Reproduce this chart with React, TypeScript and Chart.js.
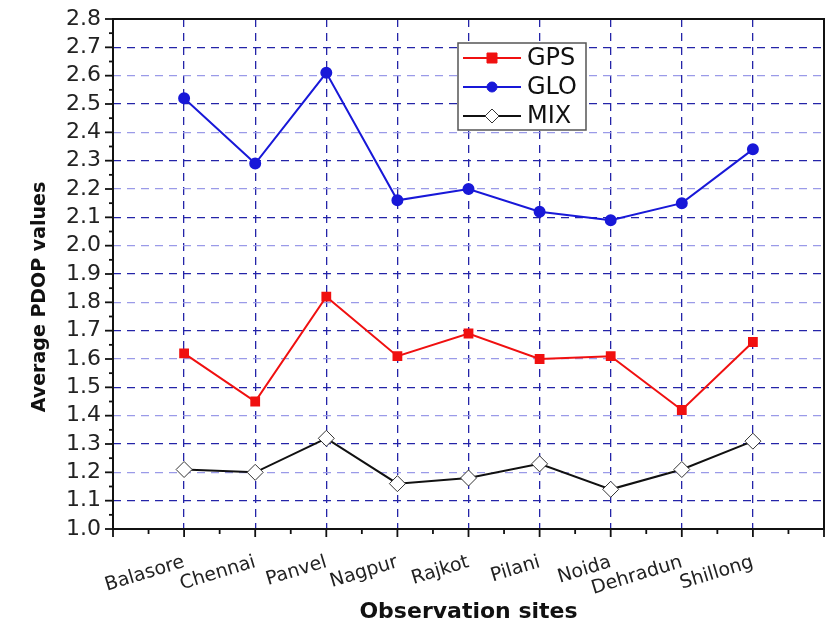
import React, { useEffect, useRef } from "react";
import { Chart, registerables } from "chart.js";

Chart.register(...registerables);

const sites = ["Balasore", "Chennai", "Panvel", "Nagpur", "Rajkot", "Pilani", "Noida", "Dehradun", "Shillong"];
const gps = [1.62, 1.45, 1.82, 1.61, 1.69, 1.60, 1.61, 1.42, 1.66];
const glo = [2.52, 2.29, 2.61, 2.16, 2.20, 2.12, 2.09, 2.15, 2.34];
const mix = [1.21, 1.20, 1.32, 1.16, 1.18, 1.23, 1.14, 1.21, 1.31];
const xTitle = "Observation sites";
const yTitle = "Average PDOP values";

const FONT = "'DejaVu Sans', 'Liberation Sans', Arial, sans-serif";
const DARK = "#2424a8";
const LIGHT = "#9a9ae8";

const framePlugin = {
  id: "frameTicks",
  afterDraw(chart: any) {
    const { ctx, chartArea: a, scales } = chart;
    const xs = scales.x;
    const ys = scales.y;
    ctx.save();
    ctx.strokeStyle = "#111";
    ctx.lineWidth = 2;
    ctx.strokeRect(a.left, a.top, a.right - a.left, a.bottom - a.top);
    ctx.lineWidth = 1.8;
    for (let i = 0; i <= 20; i++) {
      const v = i * 0.5;
      const px = xs.getPixelForValue(v);
      const len = i % 2 === 0 ? 8 : 5;
      ctx.beginPath();
      ctx.moveTo(px, a.bottom);
      ctx.lineTo(px, a.bottom + len);
      ctx.stroke();
    }
    for (let i = 0; i <= 36; i++) {
      const v = 1 + i * 0.05;
      const py = ys.getPixelForValue(v);
      const len = i % 2 === 0 ? 8 : 4;
      ctx.beginPath();
      ctx.moveTo(a.left, py);
      ctx.lineTo(a.left - len, py);
      ctx.stroke();
    }
    // y title
    ctx.save();
    ctx.translate(40, 297);
    ctx.rotate(-Math.PI / 2);
    ctx.fillStyle = "#111";
    ctx.font = `bold 19px ${FONT}`;
    ctx.textAlign = "center";
    ctx.textBaseline = "middle";
    ctx.fillText(yTitle, 0, 0);
    ctx.restore();
    // legend
    const bx = 458, by = 43, bw = 128, bh = 87;
    ctx.fillStyle = "#fff";
    ctx.fillRect(bx, by, bw, bh);
    ctx.strokeStyle = "#555";
    ctx.lineWidth = 1.5;
    ctx.strokeRect(bx, by, bw, bh);
    chart.data.datasets.forEach((ds: any, i: number) => {
      const y = by + 15 + i * 29;
      ctx.strokeStyle = ds.borderColor;
      ctx.lineWidth = 2;
      ctx.beginPath();
      ctx.moveTo(bx + 5, y);
      ctx.lineTo(bx + 63, y);
      ctx.stroke();
      const cx = bx + 34;
      ctx.fillStyle = ds.pointBackgroundColor;
      ctx.strokeStyle = ds.pointBorderColor;
      ctx.lineWidth = 1;
      ctx.beginPath();
      if (ds.pointStyle === "rect") {
        ctx.rect(cx - 5, y - 5, 10, 10);
      } else if (ds.pointStyle === "circle") {
        ctx.arc(cx, y, 5, 0, Math.PI * 2);
      } else {
        ctx.moveTo(cx, y - 7);
        ctx.lineTo(cx + 7, y);
        ctx.lineTo(cx, y + 7);
        ctx.lineTo(cx - 7, y);
        ctx.closePath();
      }
      ctx.fill();
      ctx.stroke();
      ctx.fillStyle = "#111";
      ctx.font = `24px ${FONT}`;
      ctx.textBaseline = "middle";
      ctx.textAlign = "left";
      ctx.fillText(ds.label, bx + 69, y + 1);
    });
    ctx.restore();
  },
};

export default function App() {
  const ref = useRef<HTMLCanvasElement>(null);
  useEffect(() => {
    if (!ref.current) return;
    const mk = (vals: number[]) => vals.map((y, i) => ({ x: i + 1, y }));
    const chart = new Chart(ref.current, {
      type: "line",
      data: {
        datasets: [
          {
            label: "GPS",
            data: mk(gps),
            borderColor: "#f01010",
            backgroundColor: "#f01010",
            pointBackgroundColor: "#f01010",
            pointBorderColor: "#f01010",
            pointStyle: "rect",
            pointRadius: 5.5,
            borderWidth: 2,
          },
          {
            label: "GLO",
            data: mk(glo),
            borderColor: "#1818d8",
            backgroundColor: "#1818d8",
            pointBackgroundColor: "#1818d8",
            pointBorderColor: "#1818d8",
            pointStyle: "circle",
            pointRadius: 5,
            borderWidth: 2,
          },
          {
            label: "MIX",
            data: mk(mix),
            borderColor: "#111111",
            backgroundColor: "#ffffff",
            pointBackgroundColor: "#ffffff",
            pointBorderColor: "#333333",
            pointStyle: "rectRot",
            pointRadius: 8,
            pointBorderWidth: 1,
            borderWidth: 2,
          },
        ] as any,
      },
      options: {
        animation: false,
        responsive: false,
        layout: { autoPadding: false, padding: { top: 19, right: 4, left: 0, bottom: 0 } },
        plugins: { legend: { display: false }, tooltip: { enabled: false } },
        scales: {
          x: {
            type: "linear",
            min: 0,
            max: 10,
            afterFit: (s: any) => { s.height = 100; s.paddingRight = 0; s.paddingLeft = 0; },
            ticks: {
              stepSize: 1,
              autoSkip: false,
              minRotation: 17,
              maxRotation: 17,
              padding: 22,
              color: "#222",
              font: { family: FONT, size: 19 },
              callback: (v: any) => {
                const n = Number(v);
                return Number.isInteger(n) && n >= 1 && n <= sites.length ? sites[n - 1] : "";
              },
            },
            grid: {
              drawTicks: false,
              lineWidth: 1.3,
              color: (c: any) => {
                const v = c.tick ? c.tick.value : 0;
                return v > 0 && v < 10 ? DARK : "rgba(0,0,0,0)";
              },
            },
            border: { display: false, dash: [8, 6] } as any,
            title: {
              display: true,
              text: xTitle,
              color: "#111",
              font: { family: FONT, size: 22, weight: "bold" },
              padding: { top: 0, bottom: 4 },
            },
          },
          y: {
            min: 1.0,
            max: 2.8,
            afterFit: (s: any) => { s.width = 113; s.paddingTop = 0; s.paddingBottom = 0; },
            ticks: {
              stepSize: 0.1,
              autoSkip: false,
              padding: 12,
              color: "#222",
              font: { family: FONT, size: 22 },
              callback: (v: any) => Number(v).toFixed(1),
            },
            grid: {
              drawTicks: false,
              lineWidth: 1.3,
              color: (c: any) => {
                const v = c.tick ? c.tick.value : 0;
                if (v < 1.001 || v > 2.799) return "rgba(0,0,0,0)";
                const k = Math.round(v * 10);
                return k % 2 === 1 ? DARK : LIGHT;
              },
            },
            border: { display: false, dash: [8, 6] } as any,
            title: { display: false },
          },
        },
      } as any,
      plugins: [framePlugin],
    });
    return () => chart.destroy();
  }, []);
  return (
    <div style={{ position: "fixed", left: 0, top: 0, width: 828, height: 629, background: "#fff" }}>
      <canvas ref={ref} width={828} height={629} />
    </div>
  );
}
